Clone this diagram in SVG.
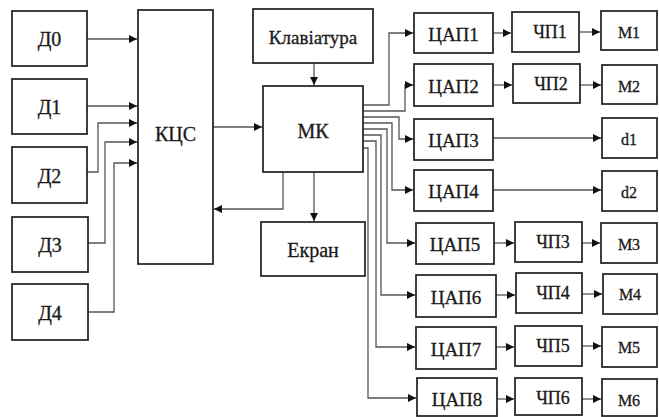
<svg xmlns="http://www.w3.org/2000/svg" width="659" height="417" viewBox="0 0 659 417">
<defs>
<marker id="ah" markerUnits="userSpaceOnUse" markerWidth="9" markerHeight="8" refX="8" refY="4" orient="auto">
<path d="M0,0 L8,4 L0,8 z" fill="#111"/>
</marker>
<style>
.b{fill:#fff;stroke:#2a2a2a;stroke-width:1.8}
.t{font-family:'Liberation Serif','DejaVu Serif',serif;fill:#1a1a1a;stroke:#1a1a1a;stroke-width:0.3;text-anchor:middle;dominant-baseline:central}
.c{fill:none;stroke:#555;stroke-width:1.3;marker-end:url(#ah)}
</style>
</defs>
<rect width="659" height="417" fill="#fff"/>
<g id="connectors">
<path class="c" d="M87,39 H137"/>
<path class="c" d="M87,106 H137"/>
<path class="c" d="M87,172 H98 V123 H137"/>
<path class="c" d="M88,243 H105 V142 H137"/>
<path class="c" d="M88,312 H114 V163 H137"/>
<path class="c" d="M213,127 H262"/>
<path class="c" d="M314,63 V85"/>
<path class="c" d="M283,172 V209 H214"/>
<path class="c" d="M314,172 V221"/>
<path class="c" d="M363,105 H389 V33 H413"/>
<path class="c" d="M363,111 H405 V85 H413"/>
<path class="c" d="M363,117 H399 V139 H413"/>
<path class="c" d="M363,123 H392 V190 H413"/>
<path class="c" d="M363,129 H387 V243 H415"/>
<path class="c" d="M363,135 H381 V295 H415"/>
<path class="c" d="M363,141 H376 V347 H415"/>
<path class="c" d="M363,148 H368 V398 H416"/>
<path class="c" d="M493,33 H511"/>
<path class="c" d="M493,85 H512"/>
<path class="c" d="M494,243 H514"/>
<path class="c" d="M496,295 H515"/>
<path class="c" d="M496,347 H514"/>
<path class="c" d="M497,399 H514"/>
<path class="c" d="M579,32 H600"/>
<path class="c" d="M580,85 H601"/>
<path class="c" d="M582,243 H600"/>
<path class="c" d="M582,294 H602"/>
<path class="c" d="M582,346 H601"/>
<path class="c" d="M582,399 H601"/>
<path class="c" d="M493,138 H601"/>
<path class="c" d="M493,190 H601"/>
</g>
<g id="D0"><rect class="b" x="12" y="11" width="75" height="55"/><text class="t" x="49.5" y="39" font-size="20">Д0</text></g>
<g id="D1"><rect class="b" x="12" y="79" width="75" height="55"/><text class="t" x="49.5" y="107" font-size="20">Д1</text></g>
<g id="D2"><rect class="b" x="12" y="147" width="75" height="56"/><text class="t" x="49.5" y="176" font-size="20">Д2</text></g>
<g id="D3"><rect class="b" x="12" y="217" width="76" height="55"/><text class="t" x="50" y="245" font-size="20">Д3</text></g>
<g id="D4"><rect class="b" x="12" y="284" width="76" height="56"/><text class="t" x="50" y="313" font-size="20">Д4</text></g>
<g id="KCS"><rect class="b" x="138" y="10" width="75" height="254"/><text class="t" x="175.5" y="134" font-size="20">КЦС</text></g>
<g id="Keyboard"><rect class="b" x="253" y="9" width="120" height="54"/><text class="t" x="313" y="37" font-size="19">Клавіатура</text></g>
<g id="MK"><rect class="b" x="263" y="86" width="100" height="86"/><text class="t" x="313" y="131" font-size="20">МК</text></g>
<g id="Screen"><rect class="b" x="261" y="222" width="104" height="54"/><text class="t" x="313" y="250" font-size="20">Екран</text></g>
<g id="DAC1"><rect class="b" x="414" y="13" width="79" height="40"/><text class="t" x="453.5" y="34" font-size="19">ЦАП1</text></g>
<g id="DAC2"><rect class="b" x="414" y="64" width="79" height="42"/><text class="t" x="453.5" y="86" font-size="19">ЦАП2</text></g>
<g id="DAC3"><rect class="b" x="414" y="119" width="79" height="41"/><text class="t" x="453.5" y="140" font-size="19">ЦАП3</text></g>
<g id="DAC4"><rect class="b" x="414" y="170" width="79" height="41"/><text class="t" x="453.5" y="191" font-size="19">ЦАП4</text></g>
<g id="DAC5"><rect class="b" x="416" y="223" width="78" height="41"/><text class="t" x="455" y="244" font-size="19">ЦАП5</text></g>
<g id="DAC6"><rect class="b" x="416" y="275" width="80" height="42"/><text class="t" x="456" y="297" font-size="19">ЦАП6</text></g>
<g id="DAC7"><rect class="b" x="416" y="327" width="80" height="42"/><text class="t" x="456" y="349" font-size="19">ЦАП7</text></g>
<g id="DAC8"><rect class="b" x="417" y="378" width="80" height="38"/><text class="t" x="457" y="399" font-size="19">ЦАП8</text></g>
<g id="FC1"><rect class="b" x="512" y="12" width="67" height="40"/><text class="t" x="550" y="32" font-size="18">ЧП1</text></g>
<g id="FC2"><rect class="b" x="513" y="64" width="67" height="39"/><text class="t" x="551" y="84" font-size="18">ЧП2</text></g>
<g id="FC3"><rect class="b" x="515" y="222" width="67" height="40"/><text class="t" x="553" y="242" font-size="18">ЧП3</text></g>
<g id="FC4"><rect class="b" x="516" y="273" width="66" height="40"/><text class="t" x="553" y="293" font-size="18">ЧП4</text></g>
<g id="FC5"><rect class="b" x="515" y="326" width="67" height="40"/><text class="t" x="553" y="346" font-size="18">ЧП5</text></g>
<g id="FC6"><rect class="b" x="515" y="378" width="67" height="37"/><text class="t" x="553" y="398" font-size="18">ЧП6</text></g>
<g id="M1"><rect class="b" x="601" y="11" width="56" height="39"/><text class="t" x="629" y="32" font-size="16">М1</text></g>
<g id="M2"><rect class="b" x="602" y="65" width="55" height="39"/><text class="t" x="629" y="86" font-size="16">М2</text></g>
<g id="d1"><rect class="b" x="602" y="118" width="55" height="40"/><text class="t" x="629" y="139" font-size="16">d1</text></g>
<g id="d2"><rect class="b" x="602" y="171" width="55" height="40"/><text class="t" x="629" y="192" font-size="16">d2</text></g>
<g id="M3"><rect class="b" x="601" y="223" width="56" height="40"/><text class="t" x="629" y="244" font-size="16">М3</text></g>
<g id="M4"><rect class="b" x="603" y="274" width="54" height="40"/><text class="t" x="630" y="294" font-size="16">М4</text></g>
<g id="M5"><rect class="b" x="602" y="327" width="55" height="40"/><text class="t" x="629" y="347" font-size="16">М5</text></g>
<g id="M6"><rect class="b" x="602" y="379" width="55" height="37"/><text class="t" x="629" y="400" font-size="16">М6</text></g>
</svg>
